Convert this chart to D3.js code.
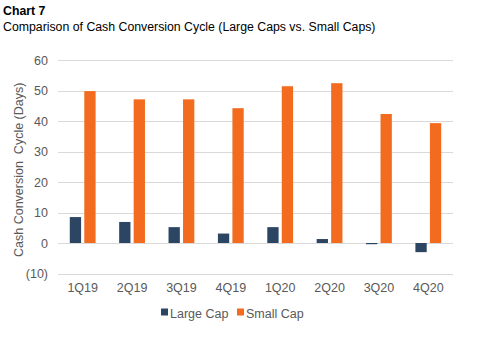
<!DOCTYPE html>
<html>
<head>
<meta charset="utf-8">
<script src="https://cdn.jsdelivr.net/npm/d3@7"></script>
<style>
  body { margin: 0; background: #fff; }
  text { font-family: "Liberation Sans", Arial, sans-serif; }
</style>
</head>
<body>
<svg id="chart" width="477" height="343"></svg>
<script>
// Quarterly cash conversion cycle, in days
const quarters = ["1Q19", "2Q19", "3Q19", "4Q19", "1Q20", "2Q20", "3Q20", "4Q20"];
const largeCap = [8.5, 6.9, 5.2, 3.1, 5.2, 1.3, -0.4, -3.0];
const smallCap = [49.8, 47.1, 47.1, 44.2, 51.4, 52.4, 42.3, 39.3];
const seriesNames = ["Large Cap", "Small Cap"];
const yTicks = [-10, 0, 10, 20, 30, 40, 50, 60];

const colors = ["#2b4562", "#f26b1f"];
const svg = d3.select("#chart");

const margin = { left: 58, right: 24, top: 60, bottom: 70 };
const W = 477, H = 343;

const x = d3.scaleBand().domain(quarters).range([margin.left, W - margin.right]).padding(0);
const y = d3.scaleLinear().domain([-10, 60]).range([273.5, 60]);

// Title block
svg.append("text").attr("x", 3).attr("y", 15)
  .attr("font-size", 12.3).attr("font-weight", "bold").attr("fill", "#000").text("Chart 7");
svg.append("text").attr("x", 3).attr("y", 30.5)
  .attr("font-size", 12.3).attr("fill", "#000")
  .text("Comparison of Cash Conversion Cycle (Large Caps vs. Small Caps)");

// Gridlines
svg.append("g").selectAll("line").data(yTicks).join("line")
  .attr("x1", margin.left).attr("x2", W - margin.right)
  .attr("y1", d => Math.round(y(d)) + 0.5).attr("y2", d => Math.round(y(d)) + 0.5)
  .attr("stroke", "#d9d9d9").attr("stroke-width", 1);

// Y axis labels
const yFmt = d => d < 0 ? `(${Math.abs(d)})` : `${d}`;
const yAxis = d3.axisLeft(y).tickValues(yTicks).tickFormat(yFmt).tickSize(0).tickPadding(10);
const gy = svg.append("g").attr("transform", `translate(${margin.left},0)`).call(yAxis);
gy.select(".domain").remove();
gy.selectAll("text").attr("font-size", 12.5).attr("fill", "#595959")
  .style("font-family", '"Liberation Sans", Arial, sans-serif');

// Y axis title
svg.append("text")
  .attr("transform", `translate(22.5, ${y(24)}) rotate(-90)`)
  .attr("text-anchor", "middle").attr("font-size", 12.5).attr("fill", "#595959")
  .attr("xml:space", "preserve")
  .text("Cash Conversion  Cycle (Days)");

// X axis labels
const xAxis = d3.axisBottom(x).tickSize(0).tickPadding(10);
const gx = svg.append("g").attr("transform", `translate(0, ${y(-10)})`).call(xAxis);
gx.select(".domain").remove();
gx.selectAll("text").attr("font-size", 12.5).attr("fill", "#595959")
  .style("font-family", '"Liberation Sans", Arial, sans-serif');

// Bars
const barW = 11.3, gap = 3.2;
const series = [largeCap, smallCap];
series.forEach((vals, si) => {
  svg.append("g").selectAll("rect").data(quarters).join("rect")
    .attr("x", (q) => x(q) + x.bandwidth() / 2 + (si === 0 ? -gap / 2 - barW : gap / 2))
    .attr("width", barW)
    .attr("y", (q, i) => y(Math.max(0, vals[i])))
    .attr("height", (q, i) => Math.abs(y(vals[i]) - y(0)))
    .attr("fill", colors[si]);
});

// Legend
const legend = svg.append("g").attr("transform", "translate(0, 313)");
const legendX = [161, 237];
seriesNames.forEach((name, i) => {
  legend.append("rect").attr("x", legendX[i]).attr("y", -4.5).attr("width", 7).attr("height", 7)
    .attr("fill", colors[i]);
  legend.append("text").attr("x", legendX[i] + 9).attr("y", 4.5)
    .attr("font-size", 12.5).attr("fill", "#595959").text(name);
});
</script>
</body>
</html>
